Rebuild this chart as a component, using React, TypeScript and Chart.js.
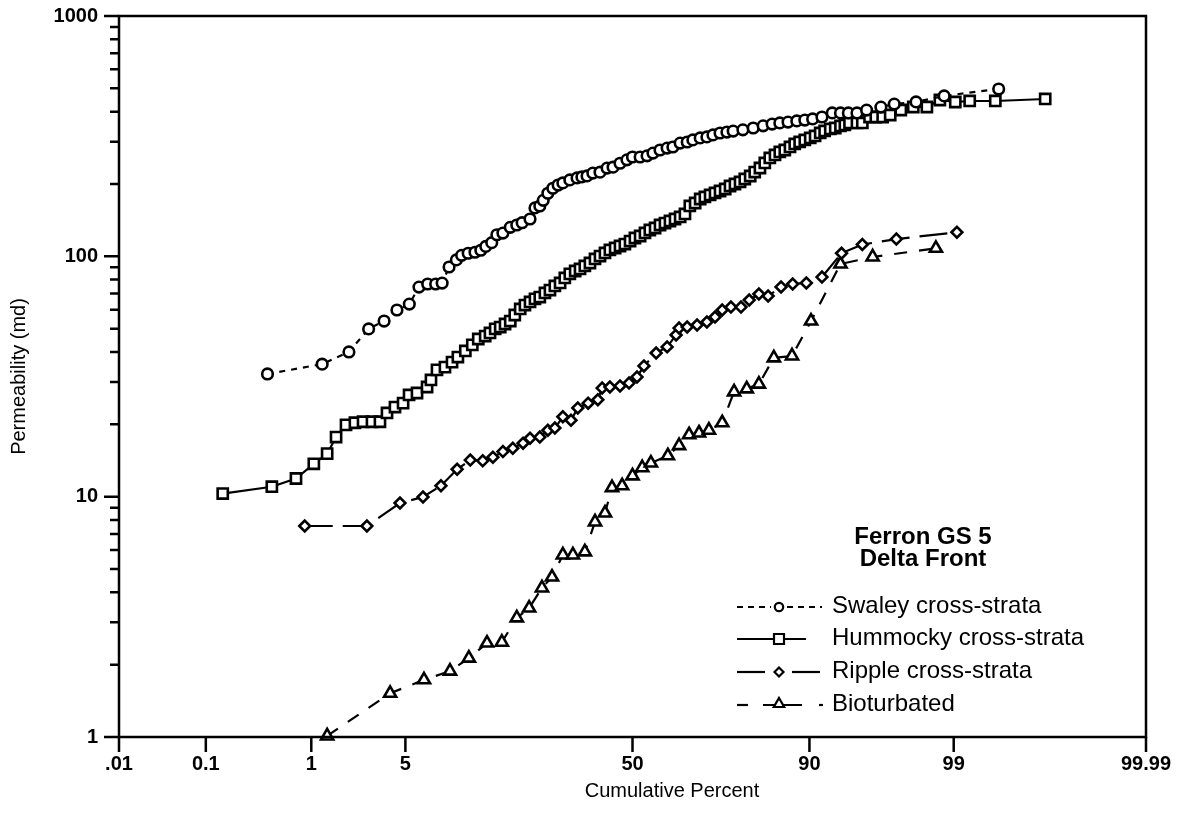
import React, { useEffect, useRef } from 'react';
import { Chart, registerables, Scale } from 'chart.js';

Chart.register(...registerables);

// ---------------- data ----------------
const SERIES_NAMES = ['Swaley cross-strata', 'Hummocky cross-strata', 'Ripple cross-strata', 'Bioturbated'];
const TITLE_LINES = ['Ferron GS 5', 'Delta Front'];
const X_TITLE = 'Cumulative Percent';
const Y_TITLE = 'Permeability (md)';

const X_TICK_VALUES = [0.01, 0.1, 1, 5, 50, 90, 99, 99.99];
const X_TICK_LABELS = ['.01', '0.1', '1', '5', '50', '90', '99', '99.99'];
const Y_MAJOR = [1, 10, 100, 1000];
const Y_MINOR = [2, 3, 4, 5, 6, 7, 8, 9, 20, 30, 40, 50, 60, 70, 80, 90, 200, 300, 400, 500, 600, 700, 800, 900];

const swaleyPct = [0.41, 1.23, 2.0, 2.8, 3.6, 4.4, 5.3, 6.1, 6.9, 7.7, 8.4, 9.2, 10.1, 10.8, 11.7, 12.7, 13.6, 14.4, 15.4, 16.3,
  17.4, 18.8, 20.1, 21.2, 22.9, 24.0, 25.1, 25.9, 27.0, 28.2, 29.5, 30.7, 32.5, 34.4, 35.7, 37.1, 38.7, 40.7, 42.7, 44.4,
  46.4, 48.4, 50.0, 52.2, 54.2, 55.9, 57.9, 59.9, 61.5, 63.5, 65.4, 66.9, 68.8, 70.5, 72.0, 73.7, 75.3, 76.7, 78.8, 80.9,
  82.8, 84.4, 85.7, 87.0, 88.3, 89.4, 90.4, 91.5, 92.6, 93.4, 94.1, 94.8, 95.5, 96.4, 97.1, 98.0, 98.8, 99.6];
const swaleyPerm = [32.4, 35.6, 40.0, 49.9, 53.8, 59.8, 63.3, 74.5, 76.7, 76.7, 77.4, 90.3, 96.6, 101, 103, 104, 106, 110, 114, 123,
  125, 132, 135, 138, 143, 159, 162, 171, 183, 192, 198, 202, 208, 212, 214, 216, 222, 224, 233, 235,
  244, 252, 259, 259, 262, 269, 277, 282, 285, 296, 299, 305, 311, 314, 320, 326, 329, 332, 336, 342,
  349, 355, 359, 362, 366, 369, 373, 380, 395, 395, 395, 395, 406, 418, 430, 439, 465, 497];

const hummockyPct = [0.15, 0.45, 0.74, 1.05, 1.35, 1.59, 1.90, 2.22, 2.55, 2.96,
  3.37, 3.77, 4.27, 4.83, 5.28, 5.93, 6.84, 7.22, 7.84, 8.72,
  9.56, 10.3, 11.3, 12.3, 13.2, 14.3, 15.1, 16.0, 16.9, 17.8,
  18.8, 19.7, 20.8, 21.8, 22.9, 24.0, 25.1, 26.3, 27.5, 28.7,
  30.0, 31.2, 32.5, 33.9, 35.2, 36.5, 37.9, 39.3, 40.7, 42.1,
  43.5, 45.0, 46.4, 47.8, 49.3, 50.7, 52.2, 53.6, 55.0, 56.5,
  57.9, 59.3, 60.7, 62.1, 63.5, 64.8, 66.1, 67.5, 68.8, 70.0,
  71.3, 72.5, 73.7, 74.9, 76.0, 77.1, 78.2, 79.2, 80.3, 81.2,
  82.2, 83.1, 84.0, 84.9, 85.7, 86.5, 87.3, 88.0, 88.7, 89.4,
  90.1, 90.7, 91.3, 91.8, 92.4, 92.9, 93.4, 93.8, 94.2, 94.8,
  95.2, 95.7, 96.1, 96.5, 96.9, 97.4, 97.9, 98.35, 98.7, 99.03,
  99.27, 99.57, 99.86];
const hummockyPerm = [10.3, 11.0, 11.9, 13.7, 15.1, 17.7, 19.9, 20.3, 20.5, 20.5,
  20.5, 22.3, 23.6, 24.5, 26.5, 27.0, 28.6, 30.6, 33.7, 34.6,
  36.3, 38.1, 40.4, 42.8, 45.3, 46.6, 48.0, 49.9, 50.8, 52.3,
  53.8, 57.0, 60.4, 62.7, 64.6, 66.5, 67.7, 70.4, 72.4, 75.3,
  77.5, 81.3, 84.5, 86.9, 88.6, 91.2, 93.8, 97.5, 100.3, 103.3,
  106.3, 108.3, 110.4, 112.5, 115.8, 119.2, 121.5, 125.1, 128.7, 131.2,
  135.0, 137.6, 140.3, 143.0, 145.8, 150.1, 162.0, 166.7, 173.2, 176.6,
  180.0, 183.5, 187.0, 190.6, 196.2, 200.0, 203.9, 209.8, 215.9, 224.3,
  233.1, 244.6, 256.6, 264.1, 271.8, 277.0, 285.1, 293.5, 299.2, 304.9,
  310.8, 316.8, 326.1, 332.4, 338.8, 342.0, 348.7, 352.0, 358.8, 358.8,
  358.8, 380, 380, 380, 387.3, 406.3, 418.2, 418.2, 447.2, 438.7,
  443.0, 443.0, 451.6];

const ripplePct = [0.88, 2.72, 4.61, 6.46, 8.27, 10.2, 12.0, 13.9, 15.6, 17.4,
  19.3, 21.4, 22.9, 25.1, 27.0, 28.7, 30.7, 32.8, 34.6, 37.4,
  40.1, 41.3, 43.5, 46.4, 49.0, 51.3, 53.3, 56.8, 59.9, 62.4,
  63.2, 65.4, 68.0, 70.5, 72.5, 74.2, 76.2, 78.4, 80.1, 82.0,
  83.7, 85.9, 87.7, 89.6, 91.5, 93.5, 95.2, 97.2, 99.06];
const ripplePerm = [7.55, 7.55, 9.41, 9.97, 11.1, 13.0, 14.2, 14.1, 14.6, 15.4,
  15.9, 16.7, 17.5, 17.7, 18.9, 19.3, 21.5, 20.8, 23.4, 24.5,
  25.3, 28.3, 28.6, 28.9, 29.7, 31.5, 35.0, 39.6, 42.0, 47.1,
  50.3, 50.8, 51.8, 53.3, 55.9, 59.8, 61.5, 61.5, 65.8, 69.7,
  68.4, 74.6, 76.7, 77.5, 82.0, 103, 112, 118, 126];

const bioPct = [1.35, 3.96, 6.55, 9.31, 11.8, 14.6, 17.2, 20.1, 22.7, 25.6,
  28.0, 30.7, 33.3, 36.5, 39.3, 42.1, 44.1, 47.0, 50.0, 52.8,
  55.3, 60.1, 63.2, 65.9, 68.5, 71.0, 74.2, 76.9, 79.6, 82.0,
  84.7, 87.6, 90.2, 93.4, 95.9, 98.6];
const bioPerm = [1.01, 1.52, 1.73, 1.88, 2.13, 2.46, 2.48, 3.13, 3.44, 4.17,
  4.63, 5.72, 5.72, 5.89, 7.85, 8.55, 10.9, 11.1, 12.2, 13.2,
  13.8, 14.8, 16.3, 18.1, 18.4, 18.9, 20.3, 27.3, 28.1, 29.4,
  37.8, 38.5, 53.8, 92.9, 99.4, 108];

// ---------------- normal probability scale ----------------
function probit(p: number): number {
  const a = [-3.969683028665376e1, 2.209460984245205e2, -2.759285104469687e2, 1.38357751867269e2, -3.066479806614716e1, 2.506628277459239];
  const b = [-5.447609879822406e1, 1.615858368580409e2, -1.556989798598866e2, 6.680131188771972e1, -1.328068155288572e1];
  const c = [-7.784894002430293e-3, -3.223964580411365e-1, -2.400758277161838, -2.549732539343734, 4.374664141464968, 2.938163982698783];
  const d = [7.784695709041462e-3, 3.224671290700398e-1, 2.445134137142996, 3.754408661907416];
  const plow = 0.02425;
  if (p < plow) {
    const q = Math.sqrt(-2 * Math.log(p));
    return (((((c[0] * q + c[1]) * q + c[2]) * q + c[3]) * q + c[4]) * q + c[5]) / ((((d[0] * q + d[1]) * q + d[2]) * q + d[3]) * q + 1);
  }
  if (p <= 1 - plow) {
    const q = p - 0.5;
    const r = q * q;
    return (((((a[0] * r + a[1]) * r + a[2]) * r + a[3]) * r + a[4]) * r + a[5]) * q / (((((b[0] * r + b[1]) * r + b[2]) * r + b[3]) * r + b[4]) * r + 1);
  }
  const q = Math.sqrt(-2 * Math.log(1 - p));
  return -(((((c[0] * q + c[1]) * q + c[2]) * q + c[3]) * q + c[4]) * q + c[5]) / ((((d[0] * q + d[1]) * q + d[2]) * q + d[3]) * q + 1);
}
function normCdf(z: number): number {
  const x = Math.abs(z) / Math.SQRT2;
  const t = 1 / (1 + 0.3275911 * x);
  const y = 1 - (((((1.061405429 * t - 1.453152027) * t) + 1.421413741) * t - 0.284496736) * t + 0.254829592) * t * Math.exp(-x * x);
  return z >= 0 ? 0.5 * (1 + y) : 0.5 * (1 - y);
}

class ProbabilityScale extends Scale {
  static id = 'probability';
  static defaults = {};
  determineDataLimits() {
    const o: any = this.options;
    (this as any).min = o.min;
    (this as any).max = o.max;
  }
  buildTicks() {
    return X_TICK_VALUES.map((v) => ({ value: v }));
  }
  getLabelForValue(v: number) {
    return String(v);
  }
  configure() {
    super.configure();
    (this as any)._zMin = probit((this as any).min / 100);
    (this as any)._zMax = probit((this as any).max / 100);
  }
  getPixelForValue(v: number) {
    const s: any = this;
    const z = probit(v / 100);
    return this.getPixelForDecimal((z - s._zMin) / (s._zMax - s._zMin));
  }
  getValueForPixel(px: number) {
    const s: any = this;
    const dd = this.getDecimalForPixel(px);
    return 100 * normCdf(s._zMin + dd * (s._zMax - s._zMin));
  }
}
Chart.register(ProbabilityScale as any);

const FONT = '"Liberation Sans", Arial, Helvetica, sans-serif';

function zip(xs: number[], ys: number[]) {
  return xs.map((x, i) => ({ x, y: ys[i] }));
}

function drawMarker(ctx: CanvasRenderingContext2D, kind: string, x: number, y: number, r: number) {
  ctx.beginPath();
  if (kind === 'circle') {
    ctx.arc(x, y, r, 0, Math.PI * 2);
  } else if (kind === 'rect') {
    ctx.rect(x - r, y - r, 2 * r, 2 * r);
  } else if (kind === 'diamond') {
    ctx.moveTo(x - r, y); ctx.lineTo(x, y - r); ctx.lineTo(x + r, y); ctx.lineTo(x, y + r); ctx.closePath();
  } else {
    ctx.moveTo(x, y - r); ctx.lineTo(x + r * 0.866, y + r * 0.5); ctx.lineTo(x - r * 0.866, y + r * 0.5); ctx.closePath();
  }
  ctx.fillStyle = '#fff';
  ctx.fill();
  ctx.stroke();
}

function seg(ctx: CanvasRenderingContext2D, x0: number, x1: number, y: number, dash: number[]) {
  ctx.setLineDash(dash);
  ctx.beginPath();
  ctx.moveTo(x0, y);
  ctx.lineTo(x1, y);
  ctx.stroke();
  ctx.setLineDash([]);
}

const decorPlugin = {
  id: 'decor',
  afterDatasetsDraw(chart: any) {
    const { ctx, chartArea: a } = chart;
    const xs = chart.scales.x;
    const ys = chart.scales.y;
    ctx.save();
    ctx.strokeStyle = '#000';
    ctx.fillStyle = '#000';
    ctx.setLineDash([]);
    ctx.lineWidth = 2.5;
    ctx.strokeRect(a.left, a.top, a.right - a.left, a.bottom - a.top);
    ctx.beginPath();
    for (const v of Y_MINOR) {
      const py = ys.getPixelForValue(v);
      ctx.moveTo(a.left - 9, py);
      ctx.lineTo(a.left, py);
    }
    for (const v of Y_MAJOR) {
      const py = ys.getPixelForValue(v);
      ctx.moveTo(a.left - 15, py);
      ctx.lineTo(a.left, py);
    }
    for (const v of X_TICK_VALUES) {
      const px = xs.getPixelForValue(v);
      ctx.moveTo(px, a.bottom);
      ctx.lineTo(px, a.bottom + 15);
    }
    ctx.stroke();

    // axis titles
    ctx.fillStyle = '#000';
    ctx.font = `20px ${FONT}`;
    ctx.textAlign = 'center';
    ctx.textBaseline = 'middle';
    ctx.fillText(X_TITLE, 672, 791);
    ctx.save();
    ctx.translate(19, (a.top + a.bottom) / 2);
    ctx.rotate(-Math.PI / 2);
    ctx.fillText(Y_TITLE, 0, 0);
    ctx.restore();

    // inset title
    ctx.font = `bold 24px ${FONT}`;
    ctx.textBaseline = 'alphabetic';
    ctx.fillText(TITLE_LINES[0], 923, 544);
    ctx.fillText(TITLE_LINES[1], 923, 566);

    // legend
    const rows = [607, 639, 672, 705];
    const mx = 779;
    ctx.lineWidth = 2.2;
    ctx.strokeStyle = '#000';
    seg(ctx, 737, 771, rows[0], [6, 5]);
    seg(ctx, 787, 822, rows[0], [6, 5]);
    drawMarker(ctx, 'circle', mx, rows[0], 4.2);
    seg(ctx, 737, 806, rows[1], []);
    drawMarker(ctx, 'rect', mx, rows[1], 5);
    seg(ctx, 737, 765, rows[2], []);
    seg(ctx, 792, 820, rows[2], []);
    drawMarker(ctx, 'diamond', mx, rows[2], 4.5);
    seg(ctx, 737, 748, rows[3], []);
    seg(ctx, 763, 802, rows[3], []);
    seg(ctx, 819, 823, rows[3], []);
    drawMarker(ctx, 'triangle', mx, rows[3] - 1, 6);

    ctx.fillStyle = '#000';
    ctx.font = `24px ${FONT}`;
    ctx.textAlign = 'left';
    ctx.textBaseline = 'middle';
    SERIES_NAMES.forEach((n, i) => ctx.fillText(n, 832, rows[i] - 1));
    ctx.restore();
  },
};

export default function App() {
  const ref = useRef<HTMLCanvasElement | null>(null);
  useEffect(() => {
    if (!ref.current) return;
    const common = {
      showLine: true,
      borderColor: '#000',
      borderWidth: 2.2,
      pointBorderColor: '#000',
      pointBackgroundColor: '#fff',
      pointBorderWidth: 2.6,
      clip: false as any,
      tension: 0,
    };
    const chart = new Chart(ref.current, {
      type: 'scatter',
      data: {
        datasets: [
          { ...common, label: SERIES_NAMES[0], data: zip(swaleyPct, swaleyPerm), borderDash: [6, 6], pointStyle: 'circle', pointRadius: 5.3 },
          { ...common, label: SERIES_NAMES[1], data: zip(hummockyPct, hummockyPerm), pointStyle: 'rect', pointRadius: 7.2 },
          { ...common, label: SERIES_NAMES[2], data: zip(ripplePct, ripplePerm), borderDash: [28, 10], pointStyle: 'rectRot', pointRadius: 5.4 },
          { ...common, label: SERIES_NAMES[3], data: zip(bioPct, bioPerm), borderDash: [13, 12], pointStyle: 'triangle', pointRadius: 7 },
        ],
      },
      options: {
        animation: false,
        responsive: false,
        devicePixelRatio: 1,
        events: [],
        layout: { padding: { top: 16, right: 35, left: 0, bottom: 0 } },
        plugins: { legend: { display: false }, tooltip: { enabled: false }, title: { display: false } },
        scales: {
          x: {
            type: 'probability' as any,
            min: 0.01,
            max: 99.99,
            position: 'bottom',
            grid: { display: false, drawTicks: false },
            border: { display: false },
            ticks: {
              autoSkip: false,
              maxRotation: 0,
              minRotation: 0,
              padding: 15,
              color: '#000',
              font: { family: FONT, size: 20, weight: 'bold' },
              callback: (_v: any, i: number) => X_TICK_LABELS[i],
            },
            afterFit: (s: any) => { s.height = 99; s.paddingLeft = 0; s.paddingRight = 0; },
          } as any,
          y: {
            type: 'logarithmic',
            min: 1,
            max: 1000,
            position: 'left',
            grid: { display: false, drawTicks: false },
            border: { display: false },
            afterBuildTicks: (s: any) => { s.ticks = Y_MAJOR.map((v) => ({ value: v })); },
            ticks: {
              autoSkip: false,
              padding: 21,
              color: '#000',
              font: { family: FONT, size: 20, weight: 'bold' },
              callback: (v: any) => String(v),
            },
            afterFit: (s: any) => { s.width = 119; s.paddingTop = 0; s.paddingBottom = 0; },
          } as any,
        },
      },
      plugins: [decorPlugin],
    });
    return () => chart.destroy();
  }, []);
  return (
    <div style={{ position: 'fixed', left: 0, top: 0, width: 1181, height: 836, background: '#fff' }}>
      <canvas ref={ref} width={1181} height={836} style={{ width: 1181, height: 836, display: 'block' }} />
    </div>
  );
}
